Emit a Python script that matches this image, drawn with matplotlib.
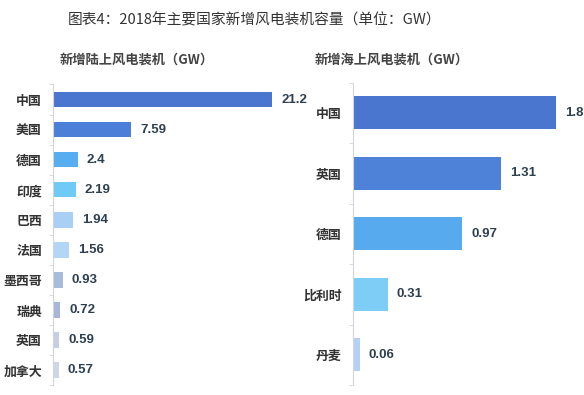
import matplotlib
matplotlib.use("Agg")
import matplotlib.pyplot as plt
import numpy as np

plt.rcParams['font.family'] = ['Noto Sans CJK SC', 'DejaVu Sans']

# onshore
land_countries = ['中国', '美国', '德国', '印度', '巴西', '法国', '墨西哥', '瑞典', '英国', '加拿大']
land_values = [21.2, 7.59, 2.4, 2.19, 1.94, 1.56, 0.93, 0.72, 0.59, 0.57]
land_colors = ['#4a76cf', '#4c80d8', '#56adf0', '#6fcbf6', '#a9cff5', '#b3d6f6',
               '#a7bcdd', '#a8b6da', '#c6cfe2', '#cbd7e7']

# offshore
sea_countries = ['中国', '英国', '德国', '比利时', '丹麦']
sea_values = [1.8, 1.31, 0.97, 0.31, 0.06]
sea_colors = ['#4a76cf', '#4d82d8', '#58aaee', '#7dcdf7', '#b3d2f3']

W, H = 584, 395
fig = plt.figure(figsize=(W / 100, H / 100), dpi=100)

def add_panel(x0, x1, y_top, y_bot, names, vals, colors, xmax, bar_h):
    ax = fig.add_axes([x0 / W, 1 - y_bot / H, (x1 - x0) / W, (y_bot - y_top) / H])
    y = np.arange(len(names))
    ax.barh(y, vals, height=bar_h, color=colors)
    ax.set_ylim(len(names) - 0.5, -0.5)
    ax.set_xlim(0, xmax)
    ax.set_yticks(y)
    ax.set_yticklabels(names, fontsize=9.3, fontweight='bold', color='#333333')
    ax.set_yticks(np.arange(len(names) + 1) - 0.5, minor=True)
    ax.tick_params(axis='y', which='major', length=0, pad=8)
    ax.tick_params(axis='y', which='minor', length=3, color='#d0d6dd')
    ax.set_xticks([])
    for s in ['top', 'right', 'bottom']:
        ax.spines[s].set_visible(False)
    ax.spines['left'].set_color('#d0d6dd')
    for yi, v in zip(y, vals):
        ax.annotate(f'{v:g}', (v, yi), xytext=(6.5, 0), textcoords='offset points',
                    va='center', ha='left', fontsize=9.5, fontweight='bold',
                    color='#2d4050', family=['Liberation Sans'])
    return ax

add_panel(53, 300, 84.5, 385, land_countries, land_values, land_colors, 23.9, 0.52)
add_panel(353, 584, 82.5, 385, sea_countries, sea_values, sea_colors, 2.05, 0.55)

fig.text(255 / W, 1 - 20 / H, '图表4：2018年主要国家新增风电装机容量（单位：GW）',
         ha='center', va='center', fontsize=10.6, color='#333333')
fig.text(137 / W, 1 - 60 / H, '新增陆上风电装机（GW）',
         ha='center', va='center', fontsize=9.5, fontweight='bold', color='#444444')
fig.text(392 / W, 1 - 60 / H, '新增海上风电装机（GW）',
         ha='center', va='center', fontsize=9.5, fontweight='bold', color='#444444')

fig.savefig('out.png', dpi=100)
